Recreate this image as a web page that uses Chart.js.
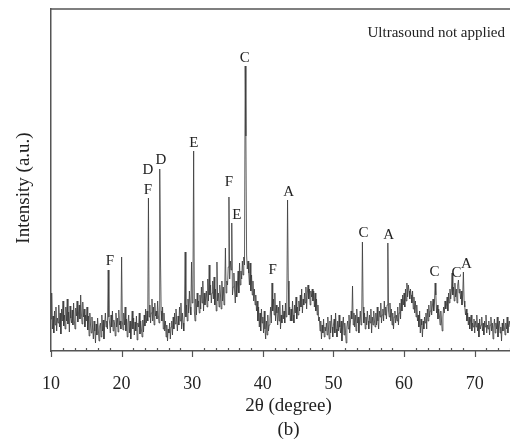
<!DOCTYPE html>
<html>
<head>
<meta charset="utf-8">
<script src="https://cdn.jsdelivr.net/npm/chart.js@4.4.0/dist/chart.umd.min.js"></script>
<style>
  body { margin: 0; background: #fff; }
  canvas { display: block; }
</style>
</head>
<body>
<canvas id="xrd-chart" width="510" height="443"></canvas>
<script>
// XRD scan, 2theta from 10 to 75 deg in 0.1 deg steps (intensity in a.u.)
const scanStart = 10;
const scanStep = 0.1;

// 10.0 - 29.9 deg, one row per degree
const scanLow = [
  32, 58, 22, 35, 18, 40, 26, 44, 20, 33,
  28, 46, 24, 38, 17, 42, 30, 50, 25, 36,
  22, 44, 30, 52, 27, 39, 19, 45, 33, 28,
  41, 26, 48, 31, 22, 43, 35, 50, 29, 38,
  46, 32, 56, 38, 27, 49, 34, 42, 24, 36,
  30, 44, 21, 35, 15, 38, 26, 18, 34, 22,
  12, 30, 20, 8, 27, 16, 33, 22, 10, 25,
  28, 14, 36, 20, 31, 12, 26, 38, 24, 30,
  22, 81, 34, 28, 18, 36, 24, 40, 20, 31,
  27, 15, 38, 24, 33, 19, 41, 26, 30, 22,
  94, 30, 21, 38, 26, 44, 20, 32, 14, 28,
  36, 18, 30, 12, 26, 40, 22, 33, 16, 29,
  20, 35, 11, 28, 24, 38, 17, 30, 22, 14,
  31, 19, 36, 25, 42, 28, 40, 30, 153, 34,
  46, 28, 38, 52, 30, 44, 26, 48, 35, 40,
  32, 50, 36, 28, 182, 95, 40, 30, 44, 22,
  38, 20, 30, 14, 26, 10, 22, 18, 28, 12,
  24, 30, 16, 34, 22, 38, 27, 42, 30, 20,
  35, 26, 44, 30, 48, 22, 38, 28, 20, 40,
  99, 34, 46, 30, 52, 38, 60, 44, 36, 89
];

// 30.0 - 49.9 deg
const scanMid = [
  48, 62, 200, 40, 30, 52, 36, 58, 44, 50,
  38, 56, 42, 64, 48, 70, 40, 58, 46, 52,
  60, 44, 72, 50, 86, 56, 66, 48, 58, 70,
  52, 74, 46, 62, 40, 89, 50, 58, 44, 66,
  56, 42, 70, 50, 64, 46, 60, 103, 58, 70,
  66, 84, 154, 72, 90, 81, 128, 56, 64, 78,
  60, 48, 70, 54, 66, 80, 58, 88, 66, 80,
  72, 90, 76, 94, 86, 285, 215, 96, 82, 90,
  78, 66, 88, 60, 76, 56, 70, 50, 62, 46,
  56, 40, 50, 30, 44, 24, 38, 20, 42, 28,
  34, 18, 40, 22, 12, 30, 16, 36, 20, 26,
  32, 44, 28, 68, 40, 52, 36, 58, 30, 46,
  38, 26, 44, 30, 50, 22, 36, 28, 46, 32,
  40, 28, 48, 34, 52, 151, 70, 36, 44, 30,
  42, 30, 50, 36, 28, 46, 38, 54, 32, 44,
  36, 50, 40, 56, 44, 62, 38, 52, 46, 58,
  48, 64, 42, 58, 66, 52, 62, 46, 60, 54,
  62, 50, 60, 44, 58, 40, 52, 36, 46, 30,
  34, 20, 30, 12, 26, 18, 32, 14, 24, 20,
  28, 16, 34, 22, 12, 30, 18, 36, 24, 14
];

// 50.0 - 75.0 deg
const scanHigh = [
  26, 32, 18, 38, 22, 14, 30, 20, 36, 24,
  18, 30, 10, 26, 34, 16, 28, 20, 8, 24,
  30, 22, 36, 18, 28, 40, 32, 65, 26, 38,
  24, 36, 20, 42, 28, 34, 18, 30, 40, 26,
  32, 109, 44, 28, 38, 22, 34, 26, 40, 30,
  22, 36, 28, 42, 18, 34, 26, 40, 30, 24,
  38, 26, 44, 30, 22, 40, 34, 48, 28, 36,
  42, 30, 50, 36, 44, 32, 46, 108, 40, 34,
  48, 30, 42, 26, 38, 22, 34, 40, 28, 36,
  30, 44, 26, 38, 48, 32, 52, 40, 56, 46,
  58, 44, 62, 50, 68, 54, 66, 60, 52, 62,
  56, 48, 60, 42, 54, 38, 50, 34, 46, 30,
  36, 24, 40, 18, 32, 26, 14, 30, 22, 34,
  28, 38, 22, 42, 30, 46, 34, 40, 50, 36,
  44, 52, 40, 48, 68, 56, 38, 46, 32, 42,
  36, 26, 40, 30, 20, 34, 44, 38, 50, 42,
  46, 54, 40, 58, 48, 62, 52, 60, 78, 56,
  64, 50, 68, 54, 62, 48, 66, 71, 58, 62,
  52, 60, 46, 56, 79, 50, 44, 36, 42, 30,
  38, 26, 34, 22, 30, 36, 20, 28, 24, 32,
  18, 30, 24, 36, 20, 28, 14, 32, 22, 26,
  34, 20, 28, 16, 30, 24, 36, 18, 26, 22,
  30, 16, 26, 34, 20, 28, 12, 24, 32, 18,
  28, 22, 34, 14, 26, 30, 18, 24, 10, 28,
  20, 32, 24, 16, 28, 22, 34, 18, 26, 30,
  24
];

// phase labels above the peaks
const peakLetters = ['F', 'F', 'D', 'D', 'E', 'F', 'E', 'C', 'F', 'A', 'C', 'A', 'C', 'C', 'A'];
const peakTheta   = [18.35, 23.72, 23.72, 25.56, 30.23, 35.18, 36.31, 37.44, 41.4, 43.66, 54.27, 57.81, 64.31, 67.43, 68.84];
const peakLabelY  = [90, 161, 181, 191, 208, 169, 136, 293, 81, 159, 118, 116, 79, 78, 87];

const xTickValues = [10, 20, 30, 40, 50, 60, 70];

const serif = "'Liberation Serif', 'DejaVu Serif', serif";
const textColor = '#222';
const frameColor = '#555';

const intensity = scanLow.concat(scanMid, scanHigh);
const points = intensity.map((v, i) => ({ x: +(scanStart + i * scanStep).toFixed(1), y: v }));

// frame, tick marks and free text that Chart.js doesn't do out of the box
const decorPlugin = {
  id: 'decor',
  afterDraw(chart) {
    const { ctx, chartArea: area, scales } = chart;
    const xs = scales.x;
    const ys = scales.y;
    ctx.save();

    // top frame line
    ctx.strokeStyle = frameColor;
    ctx.lineWidth = 1.5;
    ctx.beginPath();
    ctx.moveTo(area.left, area.top);
    ctx.lineTo(area.right, area.top);
    ctx.stroke();

    // major ticks point out, minor ones in (6 intervals per 10 deg)
    ctx.lineWidth = 1.2;
    for (let k = 0; k <= 39; k++) {
      const v = 10 + k * 10 / 6;
      if (v > 75.01) break;
      const px = Math.round(xs.getPixelForValue(v)) + 0.5;
      ctx.beginPath();
      if (k % 6 === 0) {
        ctx.moveTo(px, area.bottom);
        ctx.lineTo(px, area.bottom + 6);
      } else {
        ctx.moveTo(px, area.bottom);
        ctx.lineTo(px, area.bottom - 3);
      }
      ctx.stroke();
    }

    // peak letters
    ctx.fillStyle = textColor;
    ctx.font = '15px ' + serif;
    ctx.textAlign = 'center';
    ctx.textBaseline = 'middle';
    peakLetters.forEach((letter, i) => {
      ctx.fillText(letter, xs.getPixelForValue(peakTheta[i]), ys.getPixelForValue(peakLabelY[i]));
    });

    // sample note
    ctx.font = '15px ' + serif;
    ctx.textAlign = 'right';
    ctx.fillText('Ultrasound not applied', area.right - 5, area.top + 24);

    // axis titles
    const midX = (area.left + area.right) / 2 + 8;
    ctx.font = '19px ' + serif;
    ctx.textAlign = 'center';
    ctx.fillText('2θ (degree)', midX, 406);
    ctx.fillText('(b)', midX, 430);

    ctx.translate(24, 188);
    ctx.rotate(-Math.PI / 2);
    ctx.fillText('Intensity (a.u.)', 0, 0);

    ctx.restore();
  }
};

new Chart(document.getElementById('xrd-chart'), {
  type: 'line',
  data: {
    datasets: [{
      data: points,
      borderColor: '#383838',
      borderWidth: 0.8,
      pointRadius: 0,
      tension: 0,
      fill: false
    }]
  },
  options: {
    responsive: false,
    animation: false,
    layout: { padding: { top: 9, right: 0, left: 0, bottom: 0 } },
    plugins: {
      legend: { display: false },
      tooltip: { enabled: false }
    },
    scales: {
      x: {
        type: 'linear',
        min: 10,
        max: 75,
        afterBuildTicks(scale) {
          scale.ticks = xTickValues.map(v => ({ value: v }));
        },
        afterFit(scale) {
          scale.height = 92;
        },
        grid: { display: false },
        border: { display: true, color: frameColor, width: 1.5 },
        ticks: {
          color: textColor,
          padding: 14,
          maxRotation: 0,
          font: { family: serif, size: 18 }
        }
      },
      y: {
        min: 0,
        max: 342,
        afterFit(scale) {
          scale.width = 51;
        },
        grid: { display: false },
        border: { display: true, color: frameColor, width: 1.5 },
        ticks: { display: false }
      }
    }
  },
  plugins: [decorPlugin]
});
</script>
</body>
</html>
